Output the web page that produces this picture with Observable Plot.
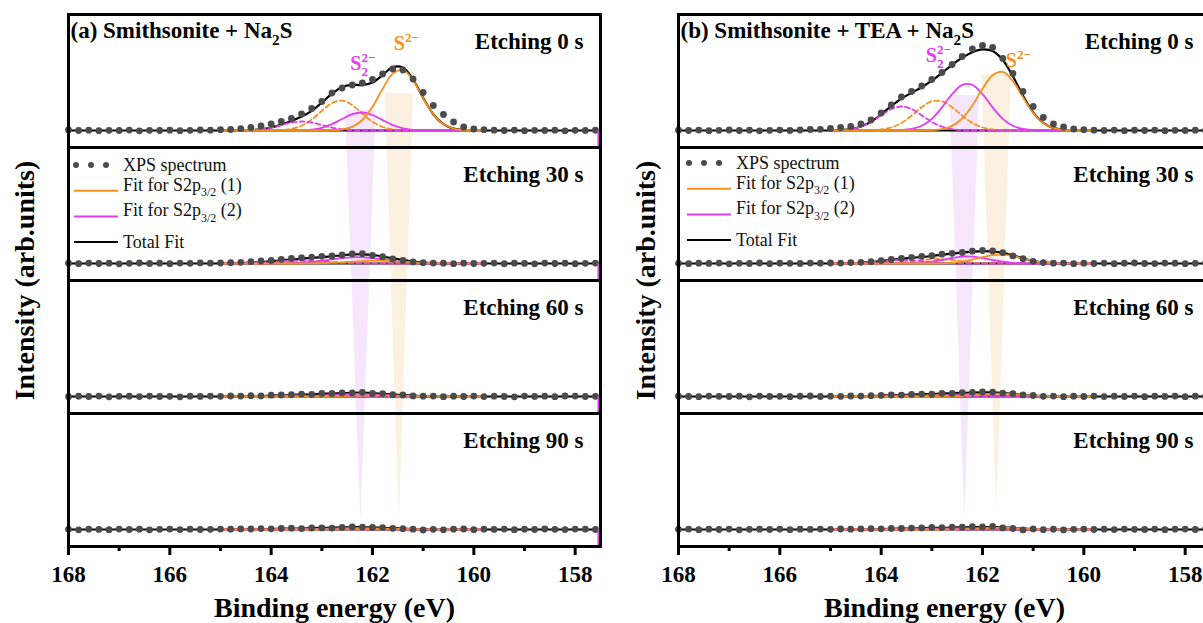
<!DOCTYPE html>
<html><head><meta charset="utf-8">
<script src="https://cdn.jsdelivr.net/npm/d3@7"></script>
<script src="https://cdn.jsdelivr.net/npm/@observablehq/plot@0.6"></script>
<style>
html,body{margin:0;padding:0;background:#fff;overflow:hidden;}
#wrap{position:relative;width:1203px;height:623px;overflow:hidden;background:#fff;}
#wrap svg{position:absolute;top:0;}
</style></head><body><div id="wrap"></div>
<script>
// ---------------- DATA ----------------
const etchTimes = ["0 s", "30 s", "60 s", "90 s"];
const majorTicks = [168, 166, 164, 162, 160, 158];
const minorTicks = [167, 165, 163, 161, 159];

// energies of measured points (eV)
const dotEnergy = [168,167.8,167.6,167.4,167.2,167,166.8,166.6,166.4,166.2,166,165.8,165.6,165.4,165.2,165,164.8,164.6,164.4,164.2,164,163.8,163.6,163.4,163.2,163,162.8,162.6,162.4,162.2,162,161.8,161.6,161.4,161.2,161,160.8,160.6,160.4,160.2,160,159.8,159.6,159.4,159.2,159,158.8,158.6,158.4,158.2,158,157.8,157.6];
// energies of fitted curves (eV)
const fitEnergy = [165,164.8,164.6,164.4,164.2,164,163.8,163.6,163.4,163.2,163,162.8,162.6,162.4,162.2,162,161.8,161.6,161.4,161.2,161,160.8,160.6,160.4,160.2,160,159.8];

// ---- (a) Smithsonite + Na2S ----
const a0Spectrum = [0.5,0,0.3,-0.2,0.2,0,0.4,-0.3,0.2,0,0.3,-0.2,0.2,0.5,0.3, 0.8,1.0,1.8,3.0,4.5,6.5,9.0,12.0,16.5,22.0,29.0,37.5,42.5,45.5,47.5,51.0,56.5,61.5,60.5,51.5,38.0,25.0,16.0,8.5,3.5,1.5,0.8, 0.3,0,0.4,-0.2,0.2,0,0.3,-0.3,0.2,0,0.3];
const a0Total      = [0,0,0.1,0.4,1.2,3.0,5.9,9.5,13.9,19.7,27.8,36.8,43.6,45.7,45.4,47.9,55.5,63.4,63.0,51.0,32.6,16.3,6.4,1.9,0.5,0.1,0];
const a0S2         = [0,0,0,0,0,0,0,0,0,0,0,0.2,1.0,3.6,10.5,23.7,41.6,56.9,60.5,50.2,32.4,16.3,6.4,1.9,0.5,0.1,0];
const a0S2Doublet  = [0,0,0,0,0,0.1,0.4,1.6,4.7,10.9,19.6,27.4,29.9,25.4,16.8,8.7,3.5,1.1,0.3,0.1,0,0,0,0,0,0,0];
const a0S22        = [0,0,0,0,0,0,0,0,0.2,0.9,2.7,6.3,11.5,16.3,18.0,15.5,10.4,5.4,2.2,0.7,0.2,0,0,0,0,0,0];
const a0S22Doublet = [0,0,0.1,0.4,1.2,2.9,5.5,7.9,9.0,7.9,5.5,2.9,1.2,0.4,0.1,0,0,0,0,0,0,0,0,0,0,0,0];

const a30Spectrum = [0.3,-0.2,0.4,0,0.3,-0.3,0.2,0.5,0,0.3,-0.2,0.4,0.2,0.6,0.3, 0.5,0.8,1.2,1.8,2.5,3.0,4.2,5.0,5.8,6.4,7.2,7.5,8.6,9.6,9.8,8.2,6.8,4.6,3.0,1.6,0.8,0.4,0.3,-0.2,0.3,0,0.2, 0.4,-0.2,0.3,0.1,-0.3,0.4,0,0.3,-0.2,0.2,0.4];
const a30Total      = [0.1,0.2,0.4,0.8,1.4,2.3,3.1,4.0,4.8,5.6,6.4,7.2,8.2,9.1,9.2,8.5,7.0,5.1,3.5,2.0,1.0,0.5,0.2,0.1,0,0,0];
const a30S2         = [0,0,0,0,0,0,0,0,0,0.2,0.4,0.7,1.2,1.9,2.4,2.8,2.8,2.4,1.9,1.2,0.7,0.4,0.2,0.1,0,0,0];
const a30S2Doublet  = [0,0,0,0.1,0.2,0.4,0.6,0.9,1.2,1.4,1.4,1.2,0.9,0.6,0.4,0.2,0.1,0,0,0,0,0,0,0,0,0,0];
const a30S22        = [0,0,0,0,0,0,0.1,0.3,0.8,1.6,2.7,4.1,5.4,6.2,6.2,5.4,4.1,2.7,1.6,0.8,0.3,0.1,0,0,0,0,0];
const a30S22Doublet = [0.1,0.2,0.4,0.7,1.2,1.9,2.4,2.8,2.8,2.4,1.9,1.2,0.7,0.4,0.2,0.1,0,0,0,0,0,0,0,0,0,0,0];

const a60Spectrum = [-0.2,0.3,0,0.4,-0.3,0.2,0.3,-0.1,0.4,0,0.2,-0.3,0.3,0.1,0.4, 0.2,0.5,0.4,0.8,0.6,1.3,1.5,1.8,2.4,2.0,3.1,3.0,3.6,3.5,4.2,3.0,2.9,1.8,1.5,0.6,0.3,0.4,-0.2,0.3,0,0.4,-0.1, 0.3,0,-0.3,0.4,0.1,0.3,-0.2,0.5,0.4,0,0.2];
const a60Total      = [0,0.1,0.2,0.3,0.5,1.0,1.2,1.6,1.9,2.2,2.7,2.9,3.4,3.7,3.8,3.4,2.7,2.1,1.4,0.8,0.4,0.2,0.1,0,0,0,0];
const a60S2         = [0,0,0,0,0,0,0,0,0,0,0.2,0.3,0.5,0.8,1.0,1.1,1.1,1.0,0.8,0.5,0.3,0.2,0.1,0,0,0,0];
const a60S2Doublet  = [0,0,0,0,0,0.2,0.2,0.4,0.5,0.6,0.6,0.5,0.4,0.2,0.2,0.1,0,0,0,0,0,0,0,0,0,0,0];
const a60S22        = [0,0,0,0,0,0,0,0.1,0.3,0.6,1.1,1.6,2.2,2.5,2.5,2.2,1.6,1.1,0.6,0.3,0.1,0,0,0,0,0,0];
const a60S22Doublet = [0,0.1,0.2,0.3,0.5,0.8,1.0,1.1,1.1,1.0,0.8,0.5,0.3,0.2,0.1,0,0,0,0,0,0,0,0,0,0,0,0];

const a90Spectrum = [0.2,-0.3,0.3,0.1,-0.2,0.4,0,0.3,-0.3,0.2,0.4,-0.1,0.3,0,0.2, 0.4,0.3,0.6,0.5,0.9,0.7,1.0,1.3,0.9,1.5,1.6,1.4,2.0,2.6,2.4,2.0,1.9,1.2,0.8,0.3,-0.5,0.2,-0.3,0.3,0.5,-0.2,0.3, 0.1,0.4,-0.2,0.3,0,0.5,0.2,-0.1,0.4,0.3,0];
const a90Total      = [0,0,0,0.2,0.3,0.5,0.8,0.9,1.0,1.4,1.6,1.8,2.1,2.4,2.2,2.1,1.7,1.3,0.9,0.5,0.2,0,0,0,0,0,0];
const a90S2         = [0,0,0,0,0,0,0,0,0,0,0,0.2,0.3,0.5,0.6,0.7,0.7,0.6,0.5,0.3,0.2,0,0,0,0,0,0];
const a90S2Doublet  = [0,0,0,0,0,0,0.2,0.2,0.3,0.4,0.4,0.3,0.2,0.2,0,0,0,0,0,0,0,0,0,0,0,0,0];
const a90S22        = [0,0,0,0,0,0,0,0,0,0.4,0.7,1.0,1.4,1.6,1.6,1.4,1.0,0.7,0.4,0.2,0,0,0,0,0,0,0];
const a90S22Doublet = [0,0,0,0.2,0.3,0.5,0.6,0.7,0.7,0.6,0.5,0.3,0.2,0.1,0,0,0,0,0,0,0,0,0,0,0,0,0];

// ---- (b) Smithsonite + TEA + Na2S ----
const b0Spectrum = [0.3,0,0.4,-0.2,0.2,0.5,0,0.3,-0.3,0.2,0.4,0,0.5,1.0,1.2, 2.0,3.0,4.0,6.5,10.5,17.5,25.5,33.5,39.0,44.5,51.0,58.0,66.0,74.0,81.5,85.0,83.0,72.0,57.0,39.0,24.0,13.0,6.5,3.5,1.5,0.8,0.3, 0,0.4,-0.2,0.3,0,0.4,-0.2,0.2,0,0.3,0];
const b0Total      = [0.1,0.4,1.4,4.0,8.8,16.2,24.5,31.9,37.7,43.3,49.8,57.6,65.7,72.9,78.3,81.1,79.4,70.5,54.2,34.7,18.2,7.7,2.6,0.7,0.2,0,0];
const b0S2         = [0,0,0,0,0,0,0,0,0,0.1,0.3,1.4,4.6,12.0,25.0,41.7,55.3,58.6,49.4,33.2,17.8,7.6,2.6,0.7,0.2,0,0];
const b0S2Doublet  = [0,0,0,0.1,0.2,1.0,3.0,7.5,14.8,23.3,29.2,29.2,23.3,14.8,7.5,3.0,1.0,0.2,0.1,0,0,0,0,0,0,0,0];
const b0S22        = [0,0,0,0,0,0,0.1,0.4,1.5,4.7,11.7,23.1,36.4,45.7,45.7,36.4,23.1,11.7,4.7,1.5,0.4,0.1,0,0,0,0,0];
const b0S22Doublet = [0.1,0.4,1.4,3.9,8.6,15.2,21.4,24.0,21.4,15.2,8.6,3.9,1.4,0.4,0.1,0,0,0,0,0,0,0,0,0,0,0,0];

const b30Spectrum = [0.2,-0.2,0.3,0.1,0.4,-0.3,0.2,0,0.5,-0.2,0.3,0.2,0,0.4,0.3, 0.5,0.4,0.9,1.2,1.8,2.9,4.0,5.0,6.2,7.2,7.8,9.3,10.2,11.0,12.3,13.0,12.6,10.8,7.6,4.8,2.2,0.9,0.3,0.4,-0.2,0.3,0, 0.4,-0.2,0.3,0.6,0,-0.1,0.4,0.3,-0.2,0.2,0.4];
const b30Total      = [0,0.1,0.2,0.6,1.3,2.5,3.7,4.7,5.6,6.5,7.5,8.7,9.9,10.9,11.8,12.3,12.0,10.6,8.1,5.2,2.7,1.1,0.4,0.1,0,0,0];
const b30S2         = [0,0,0,0,0,0,0,0,0,0,0,0.2,0.7,1.8,3.8,6.3,8.3,8.8,7.4,5.0,2.7,1.1,0.4,0.1,0,0,0];
const b30S2Doublet  = [0,0,0,0,0,0.2,0.5,1.1,2.2,3.5,4.4,4.4,3.5,2.2,1.1,0.5,0.2,0,0,0,0,0,0,0,0,0,0];
const b30S22        = [0,0,0,0,0,0,0,0,0.2,0.7,1.8,3.5,5.5,6.9,6.9,5.5,3.5,1.8,0.7,0.2,0,0,0,0,0,0,0];
const b30S22Doublet = [0,0.1,0.2,0.6,1.3,2.3,3.2,3.6,3.2,2.3,1.3,0.6,0.2,0,0,0,0,0,0,0,0,0,0,0,0,0,0];

const b60Spectrum = [0.3,0,-0.2,0.4,0.2,0,0.3,-0.3,0.4,0.1,0.2,-0.2,0.3,0.5,0, 0.3,0.2,0.5,0.4,0.8,1.1,1.5,1.4,2.1,2.4,2.3,3.2,3.1,3.9,4.2,4.6,4.3,3.4,2.9,1.6,1.0,0.2,0.4,-0.2,0.3,0,0.4, -0.1,0.3,0,0.4,-0.2,0.3,0.1,0.4,-0.2,0.3,0.2];
const b60Total      = [0,0,0.1,0.2,0.4,0.9,1.3,1.6,1.9,2.2,2.5,3.0,3.3,3.6,4.0,4.1,4.1,3.5,2.7,1.8,0.9,0.4,0.1,0,0,0,0];
const b60S2         = [0,0,0,0,0,0,0,0,0,0,0,0.1,0.2,0.6,1.3,2.1,2.8,2.9,2.5,1.7,0.9,0.4,0.1,0,0,0,0];
const b60S2Doublet  = [0,0,0,0,0,0.1,0.2,0.4,0.7,1.2,1.5,1.5,1.2,0.7,0.4,0.2,0.1,0,0,0,0,0,0,0,0,0,0];
const b60S22        = [0,0,0,0,0,0,0,0,0.1,0.2,0.6,1.2,1.8,2.3,2.3,1.8,1.2,0.6,0.2,0.1,0,0,0,0,0,0,0];
const b60S22Doublet = [0,0,0.1,0.2,0.4,0.8,1.1,1.2,1.1,0.8,0.4,0.2,0.1,0,0,0,0,0,0,0,0,0,0,0,0,0,0];

const b90Spectrum = [0.2,0.4,-0.2,0.3,0,0.4,-0.3,0.2,0.3,0,0.4,-0.2,0.3,0.1,0.4, 0.2,0.5,0.3,0.6,0.8,0.7,1.1,1.0,1.4,1.6,2.0,1.9,2.4,2.3,2.8,2.6,3.2,1.6,1.0,-0.4,0.6,-0.2,0.3,-0.4,0.2,0.4,0, 0.3,-0.1,0.4,0.2,0,0.4,-0.2,0.3,0.4,0,0.3];
const b90Total      = [0,0,0,0.1,0.3,0.5,0.7,0.9,1.0,1.3,1.6,1.7,1.9,2.2,2.4,2.5,2.4,2.2,1.6,1.0,0.5,0.2,0.1,0,0,0,0];
const b90S2         = [0,0,0,0,0,0,0,0,0,0,0,0,0.1,0.4,0.8,1.3,1.7,1.8,1.5,1.0,0.5,0.2,0.1,0,0,0,0];
const b90S2Doublet  = [0,0,0,0,0,0,0.1,0.2,0.4,0.7,0.9,0.9,0.7,0.4,0.2,0.1,0,0,0,0,0,0,0,0,0,0,0];
const b90S22        = [0,0,0,0,0,0,0,0,0,0.1,0.4,0.7,1.1,1.4,1.4,1.1,0.7,0.4,0.1,0,0,0,0,0,0,0,0];
const b90S22Doublet = [0,0,0,0.1,0.3,0.5,0.6,0.7,0.6,0.5,0.3,0.1,0,0,0,0,0,0,0,0,0,0,0,0,0,0,0];

// peak-position guides (eV): [S2^2-, S^2-]
const aGuideEnergy = [162.23, 161.47];
const bGuideEnergy = [162.35, 161.72];

// ---------------- LAYOUT / STYLE ----------------
const ORANGE = "#F5921B", MAGENTA = "#E03DF4", DOT = "#4b4b4b";
const FONT = "'Liberation Serif', 'Times New Roman', serif";
const PANEL = 133, BASE = 17;
const base = i => (3 - i) * PANEL + BASE;
const series = (energies, values, i) => values.map((v, k) => ({e: energies[k], y: base(i) + v}));

const SVGNS = "http://www.w3.org/2000/svg";
function richify(root) {
  root.querySelectorAll("text").forEach(t => {
    const s = t.textContent;
    if (!s.includes("{")) return;
    const fs = parseFloat(getComputedStyle(t).fontSize) || 16;
    const parts = s.split(/(\{[_^][^}]*\})/).filter(p => p !== "");
    while (t.firstChild) t.removeChild(t.firstChild);
    let cur = 0, lastSub = null;
    for (const p of parts) {
      const m = p.match(/^\{([_^])([^}]*)\}$/);
      const ts = document.createElementNS(SVGNS, "tspan");
      if (m) {
        const isSub = m[1] === "_";
        const off = isSub ? 0.3 * fs : -0.42 * fs;
        ts.setAttribute("font-size", (0.66 * fs).toFixed(2));
        ts.setAttribute("dy", (off - cur).toFixed(2));
        if (!isSub && lastSub) ts.setAttribute("dx", (-lastSub.getComputedTextLength()).toFixed(2));
        cur = off;
        ts.textContent = m[2];
        t.appendChild(ts);
        lastSub = isSub ? ts : null;
      } else {
        ts.setAttribute("dy", (-cur).toFixed(2));
        cur = 0;
        ts.textContent = p;
        t.appendChild(ts);
        lastSub = null;
      }
    }
  });
}

function legend(svg, cfg) {
  const g = d3.select(svg).append("g")
    .attr("font-family", FONT).attr("font-size", 18).attr("font-weight", "normal")
    .attr("text-anchor", "start");
  const x0 = 68 + cfg.legendShift;
  const rows = [
    {kind: "dots", label: "XPS spectrum"},
    {kind: "line", color: ORANGE, label: "Fit for S2p{_3/2} (1)"},
    {kind: "line", color: MAGENTA, label: "Fit for S2p{_3/2} (2)"},
    {kind: "line", color: "#000", label: "Total Fit"}
  ];
  rows.forEach((r, k) => {
    const y = cfg.legendTop + k * 25.7;
    if (r.kind === "dots") {
      [8, 23, 38].forEach(dx => g.append("circle").attr("cx", x0 + dx).attr("cy", y).attr("r", 3).attr("fill", DOT));
    } else {
      g.append("line").attr("x1", x0 + 6).attr("x2", x0 + 50).attr("y1", y).attr("y2", y)
        .attr("stroke", r.color).attr("stroke-width", 2);
    }
    g.append("text").attr("x", x0 + 55).attr("y", y).attr("dy", "0.33em")
      .attr("text-anchor", "start").attr("fill", "#111").text(r.label);
  });
}

function chart(cfg) {
  const marks = [];
  // shaded guides
  cfg.guides.forEach((gd, j) => {
    const c = cfg.guideEnergy[j];
    marks.push(Plot.areaX(
      [{y: base(0) + gd.top, lo: c + gd.half, hi: c - gd.half}, {y: base(3) + gd.bottom, lo: c, hi: c}],
      {y: "y", x1: "lo", x2: "hi", fill: gd.fill}));
  });
  marks.push(Plot.ruleY([0, 1, 2, 3], {y: i => base(i), stroke: "#000", strokeWidth: 2}));
  cfg.panels.forEach((p, i) => {
    marks.push(
      Plot.line(series(fitEnergy, p.total, i), {x: "e", y: "y", stroke: "#000", strokeWidth: 2.2, curve: "catmull-rom"}),
      Plot.line(series(fitEnergy, p.s2Doublet, i), {x: "e", y: "y", stroke: ORANGE, strokeWidth: 1.8, strokeDasharray: "5,3", curve: "catmull-rom"}),
      Plot.line(series(fitEnergy, p.s22Doublet, i), {x: "e", y: "y", stroke: MAGENTA, strokeWidth: 1.8, strokeDasharray: "5,3", curve: "catmull-rom"}),
      Plot.line(series(fitEnergy, p.s22, i), {x: "e", y: "y", stroke: MAGENTA, strokeWidth: 1.8, curve: "catmull-rom"}),
      Plot.line(series(fitEnergy, p.s2, i), {x: "e", y: "y", stroke: ORANGE, strokeWidth: 1.8, curve: "catmull-rom"}),
      Plot.dot(series(dotEnergy, p.spectrum, i), {x: "e", y: "y", r: 3.4, fill: DOT})
    );
  });
  marks.push(
    Plot.ruleX([0, 1, 2, 3], {x: () => 157.54, y1: i => base(i), y2: i => base(i) - BASE + 1, stroke: MAGENTA, strokeWidth: 2}),
    Plot.ruleY([PANEL, 2 * PANEL, 3 * PANEL], {stroke: "#000", strokeWidth: 3}),
    Plot.frame({stroke: "#000", strokeWidth: 3}),
    Plot.axisX({ticks: majorTicks, tickSize: 9, tickPadding: 10, tickFormat: d => String(d), fontSize: 23, fontWeight: "bold", strokeWidth: 3, label: null}),
    Plot.axisX({ticks: minorTicks, tickSize: 5, tickFormat: () => "", strokeWidth: 3, label: null}),
    Plot.text(etchTimes, {x: () => 157.5, y: (d, i) => (4 - i) * PANEL - 27, text: d => "Etching " + d, textAnchor: "end", dx: -17, fontSize: 23, fontWeight: "bold", lineAnchor: "middle"}),
    Plot.text([cfg.title], {frameAnchor: "top-left", dx: 2, dy: 16, textAnchor: "start", lineAnchor: "middle", fontSize: 23, fontWeight: "bold"}),
    Plot.text(["Intensity (arb.units)"], {frameAnchor: "left", dx: cfg.ylabelDx, rotate: -90, fontSize: 28, fontWeight: "bold", textAnchor: "middle", lineAnchor: "middle"}),
    Plot.text(["Binding energy (eV)"], {frameAnchor: "bottom", dy: 62, fontSize: 28, fontWeight: "bold", lineAnchor: "middle"})
  );
  cfg.labels.forEach(l => marks.push(
    Plot.text([l.text], {x: () => l.e, y: () => base(0) + l.h, fill: l.color, fontSize: 20, fontWeight: "bold", textAnchor: "middle", lineAnchor: "middle"})
  ));
  return Plot.plot({
    width: 610, height: 623,
    marginLeft: 68, marginRight: 10, marginTop: 14, marginBottom: 77,
    x: {domain: [168, 157.5], label: null, axis: null},
    y: {domain: [0, 4 * PANEL], axis: null},
    style: {fontFamily: FONT, fontSize: "23px", fontWeight: "bold", background: "transparent", color: "#000", overflow: "visible"},
    marks
  });
}

const halves = [
  {
    left: 0, title: "(a) Smithsonite + Na{_2}S", ylabelDx: -43, legendTop: 165, legendShift: 0,
    guideEnergy: aGuideEnergy,
    guides: [{top: 20, bottom: 9, half: 0.30, fill: "#F6E6FB"}, {top: 37, bottom: 9, half: 0.28, fill: "#FCF0E0"}],
    labels: [{text: "S{_2}{^2−}", e: 162.19, h: 67, color: MAGENTA}, {text: "S{^2−}", e: 161.33, h: 87, color: ORANGE}],
    panels: [
      {spectrum: a0Spectrum, total: a0Total, s2: a0S2, s2Doublet: a0S2Doublet, s22: a0S22, s22Doublet: a0S22Doublet},
      {spectrum: a30Spectrum, total: a30Total, s2: a30S2, s2Doublet: a30S2Doublet, s22: a30S22, s22Doublet: a30S22Doublet},
      {spectrum: a60Spectrum, total: a60Total, s2: a60S2, s2Doublet: a60S2Doublet, s22: a60S22, s22Doublet: a60S22Doublet},
      {spectrum: a90Spectrum, total: a90Total, s2: a90S2, s2Doublet: a90S2Doublet, s22: a90S22, s22Doublet: a90S22Doublet}
    ]
  },
  {
    left: 610, title: "(b) Smithsonite + TEA + Na{_2}S", ylabelDx: -32, legendTop: 163, legendShift: 3,
    guideEnergy: bGuideEnergy,
    guides: [{top: 35, bottom: 9, half: 0.29, fill: "#F6E6FB"}, {top: 56, bottom: 19, half: 0.29, fill: "#FCF0E0"}],
    labels: [{text: "S{_2}{^2−}", e: 162.87, h: 75, color: MAGENTA}, {text: "S{^2−}", e: 161.29, h: 70, color: ORANGE}],
    panels: [
      {spectrum: b0Spectrum, total: b0Total, s2: b0S2, s2Doublet: b0S2Doublet, s22: b0S22, s22Doublet: b0S22Doublet},
      {spectrum: b30Spectrum, total: b30Total, s2: b30S2, s2Doublet: b30S2Doublet, s22: b30S22, s22Doublet: b30S22Doublet},
      {spectrum: b60Spectrum, total: b60Total, s2: b60S2, s2Doublet: b60S2Doublet, s22: b60S22, s22Doublet: b60S22Doublet},
      {spectrum: b90Spectrum, total: b90Total, s2: b90S2, s2Doublet: b90S2Doublet, s22: b90S22, s22Doublet: b90S22Doublet}
    ]
  }
];

const wrap = document.getElementById("wrap");
halves.forEach(cfg => {
  const svg = chart(cfg);
  svg.style.left = cfg.left + "px";
  wrap.appendChild(svg);
  legend(svg, cfg);
  richify(svg);
});
</script></body></html>
